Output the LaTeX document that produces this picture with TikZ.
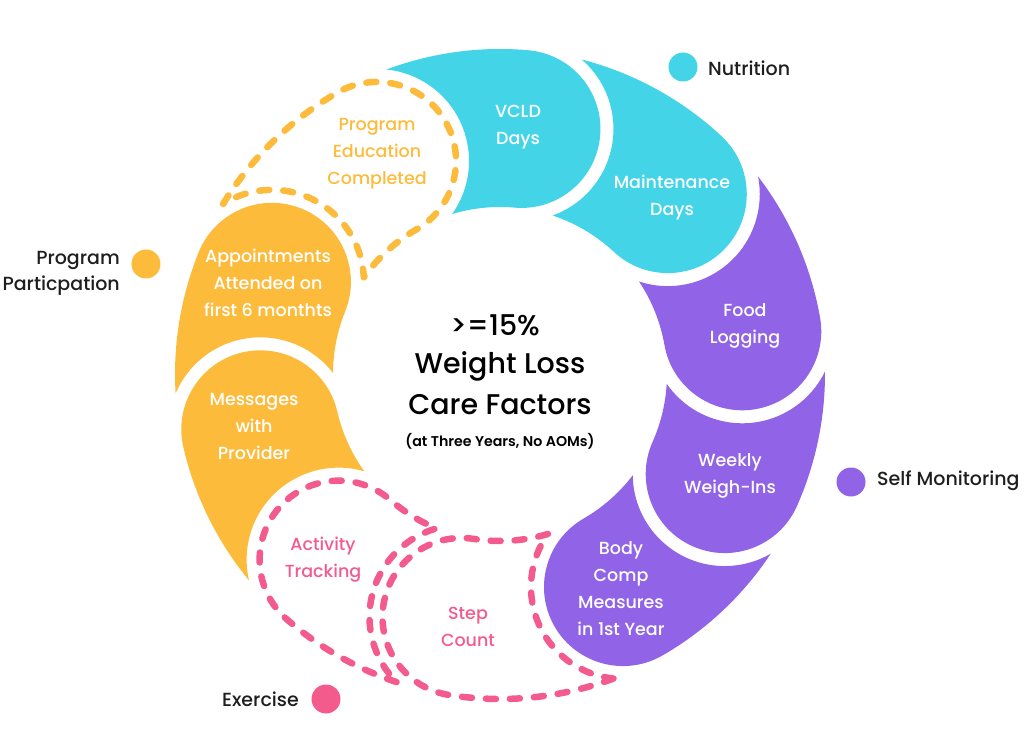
\documentclass[tikz,border=0pt]{standalone}
\usepackage{fontspec}
\setmainfont{Poppins}
\newfontfamily\pmed{Poppins Medium}
\newfontfamily\psemi{Poppins SemiBold}
\definecolor{cy}{HTML}{44D4E8}
\definecolor{pu}{HTML}{9163E6}
\definecolor{ye}{HTML}{FDBB3C}
\definecolor{pk}{HTML}{F45B8D}
\definecolor{ink}{HTML}{1E1E1E}
% #1 style, #2 head angle, #3 head angle of previous petal
\newcommand\petalshape[3]{%
  \pgfmathsetmacro\PtA{#3-9.565}%
  \pgfmathsetmacro\PtB{#3-13.36}%
  \pgfmathsetmacro\PtC{#3-155.21}%
  \pgfmathsetmacro\PtD{#3-35.94}%
  \pgfmathsetmacro\PtE{#2-180}%
  \path[#1] (\PtA:325pt) arc[start angle=\PtA, end angle=#2, radius=325pt]
    arc[start angle=#2, end angle=\PtE, radius=79pt]
    arc[start angle=#2, end angle=\PtB, radius=167pt]
    arc[start angle=\PtC, end angle=\PtD, radius=92pt] -- cycle;}
\tikzset{
  dashedpetal/.style={draw=#1, line width=6.5pt, dash pattern=on 10pt off 14pt, line cap=round, line join=round},
  petaltext/.style={font=\pmed\fontsize{17.5}{27}\selectfont, align=center, inner sep=0pt},
  legendtext/.style={font=\pmed\fontsize{19}{26}\selectfont, text=ink, inner sep=0pt},
  titletext/.style={font=\pmed\fontsize{28.5}{36}\selectfont, text=black, inner sep=0pt, anchor=base},
  legdot/.style={circle, fill=#1, minimum size=29pt, inner sep=0pt}
}
\begin{document}
\begin{tikzpicture}[x=1pt,y=1pt]
\useasboundingbox (-500,-380) rectangle (524,374);
% petals (head angle, previous head angle)
\petalshape{fill=cy}{85}{120}
\petalshape{fill=cy}{47}{85}
\petalshape{fill=pu}{10}{47}
\petalshape{fill=pu}{-24}{10}
\petalshape{fill=pu}{-60}{-24}
\petalshape{dashedpetal=pk}{-99}{-60}
\petalshape{dashedpetal=pk}{-131}{-99}
\petalshape{fill=ye}{-167}{-131}
\petalshape{fill=ye}{-202}{-167}
\petalshape{dashedpetal=ye}{-240}{-202}
% labels
\node[petaltext, text=white] (vcld) at (18,247) {VCLD\\Days};
\node[petaltext, text=white] (maint) at (172,176) {Maintenance\\Days};
\node[petaltext, text=white] (food) at (245,48) {Food\\Logging};
\node[petaltext, text=white] (weekly) at (230,-102) {Weekly\\Weigh-Ins};
\node[petaltext, text=white] (body) at (121,-215) {Body\\Comp\\Measures\\in 1st Year};
\node[petaltext, text=pk] (step) at (-32,-253) {Step\\Count};
\node[petaltext, text=pk] (activity) at (-177,-186) {Activity\\Tracking};
\node[petaltext, text=white] (messages) at (-246,-52) {Messages\\with\\Provider};
\node[petaltext, text=white] (appts) at (-232,91) {Appointments\\Attended on\\first 6 monthts};
\node[petaltext, text=ye] (progedu) at (-123,220) {Program\\Education\\Completed};
% centre title
\node[titletext] (t1) at (-5,38) {>=15\%};
\node[titletext] (t2) at (0,0) {Weight Loss};
\node[titletext] (t3) at (0,-41) {Care Factors};
\node[font=\psemi\fontsize{14.2}{18}\selectfont, inner sep=0pt, anchor=base] (t4) at (0,-72) {(at Three Years, No AOMs)};
% legend
\node[legdot=cy] (dnut) at (183,307) {};
\node[legendtext, anchor=west] (lnut) at (208,306) {Nutrition};
\node[legdot=pu] (dself) at (351,-108) {};
\node[legendtext, anchor=west] (lself) at (377,-107) {Self Monitoring};
\node[legdot=pk] (dex) at (-174,-325) {};
\node[legendtext, anchor=east] (lex) at (-201,-325) {Exercise};
\node[legdot=ye] (dprog) at (-354,110) {};
\node[legendtext, anchor=north east, align=right] (lprog) at (-380,123) {Program\\Particpation};
\end{tikzpicture}
\end{document}
